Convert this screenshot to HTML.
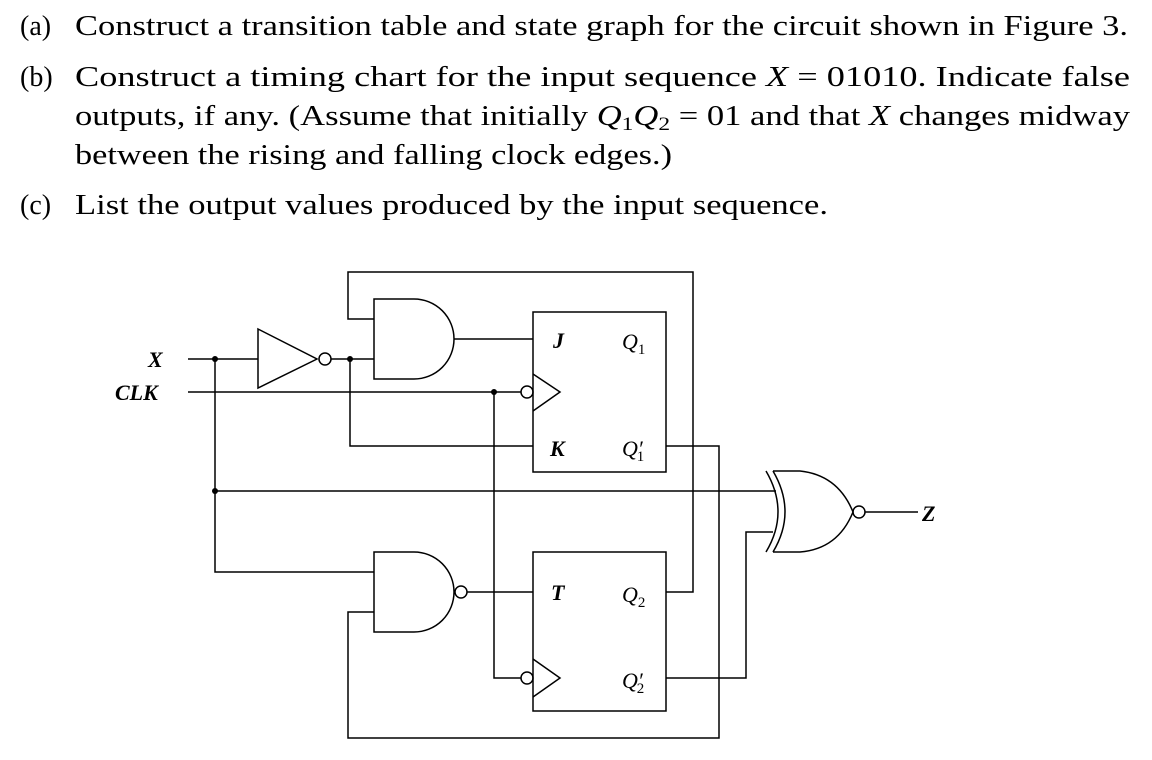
<!DOCTYPE html>
<html><head><style>
html,body{margin:0;padding:0;background:#fff;}
svg{display:block;}
text{font-family:"Liberation Serif",serif;fill:#000;}
</style></head><body>
<svg width="1152" height="760" viewBox="0 0 1152 760" xmlns="http://www.w3.org/2000/svg">
<g font-size="28">
<text x="20" y="35">(a)</text>
<text x="75" y="35" textLength="1053" lengthAdjust="spacingAndGlyphs">Construct a transition table and state graph for the circuit shown in Figure 3.</text>
<text x="20" y="86">(b)</text>
<text x="75" y="86" textLength="1055" lengthAdjust="spacingAndGlyphs">Construct a timing chart for the input sequence <tspan font-style="italic">X</tspan> = 01010. Indicate false</text>
<text x="75" y="125" textLength="1055" lengthAdjust="spacingAndGlyphs">outputs, if any. (Assume that initially <tspan font-style="italic">Q</tspan><tspan font-size="19" dy="5">1</tspan><tspan font-style="italic" dy="-5">Q</tspan><tspan font-size="19" dy="5">2</tspan><tspan dy="-5"> = 01 and that </tspan><tspan font-style="italic">X</tspan> changes midway</text>
<text x="75" y="164" textLength="597" lengthAdjust="spacingAndGlyphs">between the rising and falling clock edges.)</text>
<text x="20" y="214">(c)</text>
<text x="75" y="214" textLength="753" lengthAdjust="spacingAndGlyphs">List the output values produced by the input sequence.</text>
</g>
<g fill="none" stroke="#000" stroke-width="1.5">
<path d="M188 359 H258"/>
<path d="M215 359 V572 H374"/>
<path d="M258 329 L317 359 L258 388 Z"/>
<circle cx="325" cy="359" r="6"/>
<path d="M331 359 H374"/>
<path d="M350 359 V446 H533"/>
<path d="M374 299 H414 A40 40 0 0 1 414 379 H374 Z"/>
<path d="M454 339 H533"/>
<path d="M374 319 H348 V272 H693 V592 H666"/>
<path d="M188 392 H521"/>
<circle cx="527" cy="392" r="6"/>
<path d="M533 374 L560 392 L533 411"/>
<path d="M494 392 V678 H521"/>
<circle cx="527" cy="678" r="6"/>
<path d="M533 659 L560 678 L533 697"/>
<rect x="533" y="312" width="133" height="160"/>
<rect x="533" y="552" width="133" height="159"/>
<path d="M666 446 H719 V738 H348 V612 H374"/>
<path d="M215 491 H776"/>
<path d="M374 552 H414 A40 40 0 0 1 414 632 H374 Z"/>
<circle cx="461" cy="592" r="6"/>
<path d="M467 592 H533"/>
<path d="M666 678 H746 V532 H773"/>
<path d="M766 471 Q790 512 766 552"/>
<path d="M773 471 Q797 512 773 552"/>
<path d="M773 471 H800 Q838 475 853 512 Q838 549 800 552 H773"/>
<circle cx="859" cy="512" r="6"/>
<path d="M865 512 H918"/>
</g>
<g fill="#000">
<circle cx="215" cy="359" r="3"/>
<circle cx="350" cy="359" r="3"/>
<circle cx="494" cy="392" r="3"/>
<circle cx="215" cy="491" r="3"/>
</g>
<g font-size="22" font-style="italic" font-weight="bold">
<text x="148" y="367">X</text>
<text x="115" y="400">CLK</text>
<text x="553" y="348">J</text>
<text x="550" y="456">K</text>
<text x="551" y="600">T</text>
<text x="922" y="521">Z</text>
</g>
<g font-size="22" font-style="italic">
<text x="622" y="349">Q<tspan font-size="15" font-style="normal" dy="5">1</tspan></text>
<text x="622" y="456">Q′<tspan font-size="15" font-style="normal" dy="5" dx="-6">1</tspan></text>
<text x="622" y="602">Q<tspan font-size="15" font-style="normal" dy="5">2</tspan></text>
<text x="622" y="688">Q′<tspan font-size="15" font-style="normal" dy="5" dx="-6">2</tspan></text>
</g>
</svg>
</body></html>
